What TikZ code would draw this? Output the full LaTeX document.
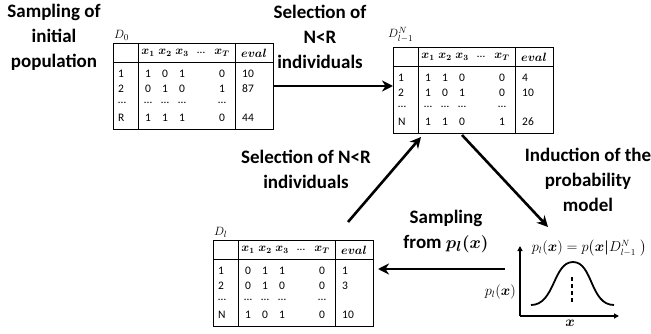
\documentclass[tikz,border=0pt]{standalone}
\usepackage{amsmath}
\usepackage{amssymb}
\usepackage{fontspec}
\setmainfont{Carlito}
\usetikzlibrary{arrows.meta,calc,positioning}
\tikzset{
	flow/.style={line width=2.6pt, -{Stealth[length=11pt,width=11pt,inset=3.5pt]}},
	axis/.style={line width=1.8pt, -{Triangle[length=5pt,width=5pt]}},
	stepname/.style={font=\fontsize{19}{25}\selectfont\bfseries, align=center, inner sep=0pt},
	poptab/.style={draw, line width=0.8pt, minimum width=160pt, minimum height=86pt,
		inner sep=0pt, outer sep=0pt},
	tabline/.style={line width=0.8pt},
	cell/.style={font=\fontsize{11.5}{13}\selectfont, inner sep=0pt},
	tabname/.style={font=\fontsize{13}{15}\selectfont, inner sep=1pt},
	plotlabel/.style={font=\fontsize{13.5}{15}\selectfont, inner sep=1pt}
}
% population table: name, centre, rows idx/x1/x2/x3/xT/eval
\newcommand{\poptable}[3]{%
	\node[poptab] (#1) at (#2) {};
	\draw[tabline] ($(#1.north west)+(0,19)$) -- ($(#1.north east)+(0,19)$)
		($(#1.north west)+(25,0)$) -- ($(#1.south west)+(25,0)$)
		($(#1.north east)+(-38,0)$) -- ($(#1.south east)+(-38,0)$);
	\foreach \col/\dx/\txt in {a/35/{$\boldsymbol{x_1}$}, b/52/{$\boldsymbol{x_2}$},
			c/69/{$\boldsymbol{x_3}$}, d/88/{…}, t/109/{$\boldsymbol{x_T}$}, e/141/{$\boldsymbol{eval}$}}
		\node[cell] (#1-h\col) at ($(#1.north west)+(\dx,10)$) {\txt};
	\foreach \ri/\va/\vb/\vc/\vt/\ev [count=\r] in {#3} {
		\pgfmathsetmacro{\dy}{16.5+14.5*\r}
		\node[cell, anchor=west] (#1-\r-i) at ($(#1.north west)+(5,\dy)$) {\ri};
		\node[cell] (#1-\r-a) at ($(#1.north west)+(35,\dy)$) {\va};
		\node[cell] (#1-\r-b) at ($(#1.north west)+(52,\dy)$) {\vb};
		\node[cell] (#1-\r-c) at ($(#1.north west)+(69,\dy)$) {\vc};
		\node[cell] (#1-\r-t) at ($(#1.north west)+(109,\dy)$) {\vt};
		\node[cell, anchor=west] (#1-\r-e) at ($(#1.north west)+(129,\dy)$) {\ev};
	}
}

\begin{document}
\begin{tikzpicture}[x=1pt, y=-1pt]
	\useasboundingbox (0,0) rectangle (651,334);

	% the three populations
	\poptable{D0}{193,86}{1/1/0/1/0/10, 2/0/1/0/1/87, …/…/…/…/…/{}, R/1/1/1/0/44}
	\poptable{Dsel}{473,90}{1/1/1/0/0/4, 2/1/0/1/0/10, …/…/…/…/…/{}, N/1/1/0/1/26}
	\poptable{Dl}{293,283}{1/0/1/1/0/1, 2/0/1/0/0/3, …/…/…/…/…/{}, N/1/0/1/0/10}
	\node[tabname, above right=1pt and 0pt of D0.north west] (D0name) {$D_0$};
	\node[tabname, above right=3pt and -6pt of Dsel.north west] (Dselname) {$D_{l-1}^N$};
	\node[tabname, above right=1pt and 0pt of Dl.north west] (Dlname) {$D_l$};

	% probability model
	\coordinate (o) at (520,316);
	\draw[axis] (o) -- ++(0,-70);
	\draw[axis] (o) -- ++(99,0);
	\draw[line width=1.8pt] ($(o)+(11,-11)$) .. controls +(24,0) and +(-20,0) .. ($(o)+(53,-54)$)
		.. controls +(20,0) and +(-24,0) .. ($(o)+(94,-11)$);
	\draw[line width=2.6pt, dash pattern=on 4pt off 3pt] ($(o)+(52,-39)$) -- ($(o)+(52,-13)$);
	\node[plotlabel, anchor=east] (py) at ($(o)+(-3,-24)$) {$p_l(\boldsymbol{x})$};
	\node[plotlabel, anchor=north] (px) at ($(o)+(50,3)$) {$\boldsymbol{x}$};
	\node[plotlabel] (pmod) at (589,248)
		{$p_l(\boldsymbol{x}) = p\bigl(\boldsymbol{x}\boldsymbol{|}D_{l-1}^N\;\bigr)$};

	% step names
	\node[stepname] (init) at (54,37) {Sampling of\\initial\\population};
	\node[stepname] (sel) at (320,37) {Selection of\\N<R\\individuals};
	\node[stepname] (resel) at (306,169) {Selection of N<R\\individuals};
	\node[stepname] (induct) at (588,180) {Induction of the\\probability\\model};
	\node[stepname] (samp) at (446,231) {Sampling\\from $\boldsymbol{p_l(x)}$};

	% cycle
	\coordinate (toModel) at (548,227);
	\coordinate (fromModel) at (505,269);
	\draw[flow] (D0.east) -- (D0.east -| Dsel.west);
	\draw[flow] ($(Dsel.south)+(-11,2)$) -- (toModel);
	\draw[flow] (fromModel) -- ($(Dl.east)+(5,-14)$);
	\draw[flow] ($(Dl.north east)+(-25,-18)$) -- ($(Dsel.south west)+(28,4)$);
\end{tikzpicture}
\end{document}
